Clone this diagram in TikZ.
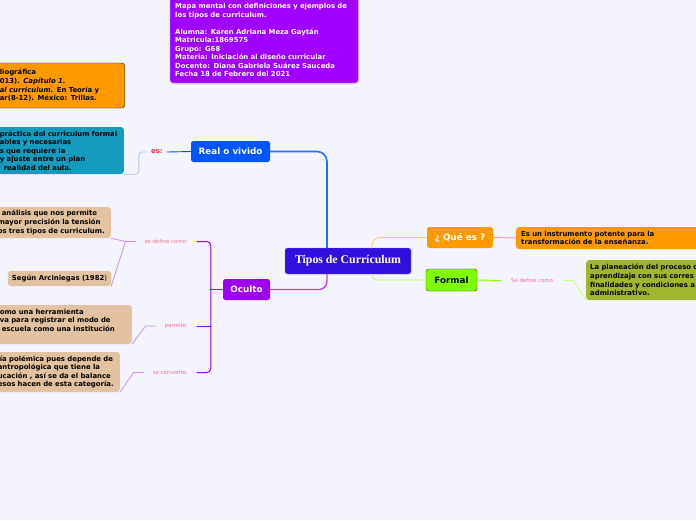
\documentclass[tikz,border=0pt]{standalone}
\usepackage{fontspec}
\setmainfont{DejaVu Sans}
\newfontfamily\titlefont{Liberation Serif}
\usetikzlibrary{shadows}
\definecolor{fondo}{RGB}{243,244,253}
\definecolor{violeta}{RGB}{160,0,255}
\definecolor{oro}{RGB}{255,153,0}
\definecolor{turquesa}{RGB}{20,155,190}
\definecolor{azul}{RGB}{0,85,255}
\definecolor{indigo}{RGB}{50,15,220}
\definecolor{lima}{RGB}{128,255,0}
\definecolor{oliva}{RGB}{160,182,45}
\definecolor{morado}{RGB}{160,0,240}
\definecolor{arena}{RGB}{226,194,160}
\definecolor{rosa}{RGB}{245,110,140}
\definecolor{rojo}{RGB}{240,50,80}
\begin{document}
\begin{tikzpicture}[x=1pt, y=-1pt, line join=round, line cap=round,
	leaf/.style={rounded corners=3pt, inner xsep=6pt, inner ysep=2pt, align=left, font=\fontsize{6.9}{8.6}\selectfont\bfseries},
	rama/.style={rounded corners=2.5pt, text=white, minimum height=21pt, inner sep=0pt, font=\fontsize{8.8}{10}\selectfont\bfseries},
	etiq/.style={inner xsep=9pt, inner ysep=1pt, text=rosa, font=\fontsize{5.4}{6}\selectfont}]
	\fill[fondo] (0,0) rectangle (696,520);
	\useasboundingbox (0,0) rectangle (696,520);
	\clip (0,0) rectangle (696,520);
	\node[leaf, fill=violeta, draw=violeta!70!white, text=white, anchor=south west, inner xsep=5pt, inner ysep=6pt, text width=178pt, font=\fontsize{6.9}{8.5}\selectfont\bfseries, drop shadow={shadow xshift=0pt, shadow yshift=-1.5pt, opacity=0.3}] (datos) at (170,83) {Mapa mental con definiciones y ejemplos de\\los tipos de curriculum.\\[8.5pt]Alumna: Karen Adriana Meza Gaytán\\Matricula:1869575\\Grupo: G68\\Materia: Iniciación al diseño curricular\\Docente: Diana Gabriela Suárez Sauceda\\Fecha 18 de Febrero del 2021};
	\node[rama, fill=indigo, draw=indigo!60!white, minimum width=126pt, minimum height=26pt, font=\titlefont\fontsize{11.8}{13}\selectfont\bfseries] (tipos) at (348,261) {Tipos de Currículum};
	\node[rama, fill=azul, minimum width=79pt] (real) at (230.5,151.5) {Real o vivido};
	\node[rama, fill=morado, minimum width=47pt] (oculto) at (246.5,289.5) {Oculto};
	\node[rama, fill=oro, minimum width=66pt] (quees) at (460,237.5) {¿ Qué es ?};
	\node[rama, fill=lima, draw=black!80, text=black, minimum width=51pt, minimum height=22pt] (formal) at (451.5,280) {Formal};
	\node[leaf, fill=oro, anchor=west, inner xsep=5pt, text width=200pt, minimum height=22pt] (instrumento) at (516,238) {Es un instrumento potente para la\\transformación de la enseñanza.};
	\node[leaf, fill=oliva, anchor=west, inner xsep=4pt, text width=200pt, minimum height=40pt] (planeacion) at (586,280) {La planeación del proceso de\\aprendizaje con sus corres\\finalidades y condiciones a\\administrativo.};
	\node[leaf, fill=oro, draw=black!85, anchor=east, text width=119pt, minimum height=45pt] (referencia) at (125,85.5) {liográfica\\013). \textit{Capítulo 1.}\\\textit{al curriculum.} En Teoría y\\ar(8-12). México: Trillas.};
	\node[leaf, fill=turquesa, anchor=east, text width=118pt, minimum height=47pt] (practica) at (124,150.5) {práctica del curriculum formal\\ables y necesarias\\s que requiere la\\y ajuste entre un plan\\\hspace*{4pt}realidad del aula.};
	\node[leaf, fill=arena, anchor=east, inner xsep=5pt, text width=108pt, minimum height=31pt] (analisis) at (111,222.5) {\hspace*{4pt}análisis que nos permite\\mayor precisión la tensión\\os tres tipos de curriculum.};
	\node[leaf, fill=arena, minimum width=103pt, minimum height=15pt, inner xsep=4pt] (arciniegas) at (59.5,278.5) {Según Arciniegas (1982{\mdseries)}};
	\node[leaf, fill=arena, anchor=east, text width=126pt, minimum height=39pt] (herramienta) at (132,324.5) {omo una herramienta\\va para registrar el modo de\\\hspace*{2pt}escuela como una institución\\~};
	\node[leaf, fill=arena, anchor=east, inner xsep=5pt, text width=117pt, minimum height=40pt] (polemica) at (120,372) {\hspace*{2pt}ía polémica pues depende de\\antropológica que tiene la\\ucación , así se da el balance\\esos hacen de esta categoría.};
	\node[etiq, text=rojo, inner xsep=4pt, font=\fontsize{7}{8}\selectfont\bfseries, anchor=east] (es) at (167,152) {es:};
	\node[etiq, anchor=east] (definecomo) at (197,241.5) {se define como:};
	\node[etiq, anchor=east] (permite) at (197,326) {permite:};
	\node[etiq, anchor=east] (convierte) at (197,372.5) {se convierte:};
	\node[etiq, inner xsep=10pt, anchor=west] (sedefine) at (501,280.5) {Se define como};
	\coordinate (bk) at ([xshift=-12pt]oculto.west);
	\draw[azul!85!white, line width=1.6pt, rounded corners=10pt] (real.east) -| ([xshift=-21pt]tipos.north);
	\draw[morado!75!white, line width=1.3pt, rounded corners=8pt] ([xshift=-21pt]tipos.south) |- (oculto.east);
	\draw[oro!55!white, line width=0.8pt, rounded corners=8pt] ([xshift=24pt]tipos.north) |- (quees.west);
	\draw[lima!70!white, line width=0.8pt, rounded corners=5pt] ([xshift=24pt]tipos.south) |- (formal.west);
	\draw[oro!85!white, line width=0.9pt] (quees.east) -- (instrumento.west);
	\draw[lima, line width=0.9pt] (formal.east) -- (sedefine.west);
	\draw[lima!50!white, line width=0.7pt] (sedefine.east) -- ++(10,0) -- (planeacion.south west);
	\draw[azul!90!black, line width=0.9pt] (real.west) -- (es.east);
	\draw[azul!35!white, line width=0.8pt, rounded corners=3pt] (es.west) -- ++(-8,0) |- (practica.south east);
	\draw[morado, line width=1pt] (oculto.west) -- (bk);
	\draw[morado, line width=1pt, rounded corners=4pt] (definecomo.east) -| (bk);
	\draw[morado, line width=1pt, rounded corners=4pt] (convierte.east) -| (bk);
	\draw[morado, line width=1pt] (permite.east) -- (permite.east -| bk);
	\draw[morado!45!white, line width=0.8pt] (definecomo.west) -- ++(-10,0) -- (analisis.south east);
	\draw[morado!45!white, line width=0.8pt] (definecomo.west) -- ++(-10,0) -- (arciniegas.south east);
	\draw[morado!45!white, line width=0.8pt] (permite.west) -- ++(-10,0) -- (herramienta.south east);
	\draw[morado!45!white, line width=0.8pt] (convierte.west) -- ++(-10,0) -- (polemica.south east);
\end{tikzpicture}
\end{document}
